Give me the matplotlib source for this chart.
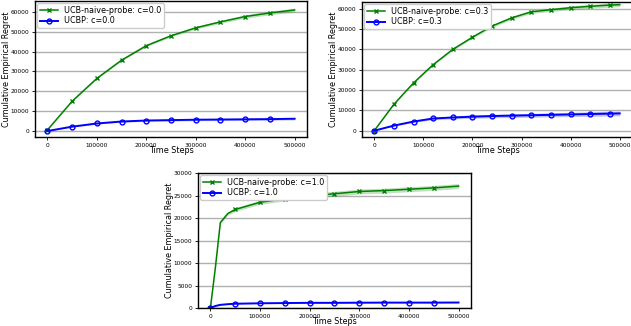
import matplotlib.pyplot as plt
import numpy as np

# c = 0.0
steps_a = [0, 50000, 100000, 150000, 200000, 250000, 300000, 350000, 400000, 450000, 500000]
naive_a = [500, 15000, 26500, 35700, 43000, 48000, 52000, 55000, 57700, 59500, 61000]
naive_a_sd = [0, 150, 250, 350, 450, 550, 650, 750, 850, 950, 1000]
ucbp_a = [0, 2200, 3800, 4800, 5300, 5500, 5700, 5800, 5900, 6000, 6200]
ucbp_a_sd = [0, 150, 250, 350, 400, 450, 500, 500, 550, 550, 600]

# c = 0.3
steps_b = [0, 40000, 80000, 120000, 160000, 200000, 240000, 280000, 320000,
           360000, 400000, 440000, 480000, 500000]
naive_b = [0, 13000, 23500, 32500, 40000, 46000, 51500, 55500, 58500,
           59500, 60500, 61200, 61800, 62000]
naive_b_sd = [0, 150, 250, 350, 450, 550, 650, 750, 800, 850, 900, 950, 1000, 1000]
ucbp_b = [0, 2500, 4500, 6000, 6500, 6900, 7200, 7400, 7600, 7800, 8000, 8200, 8400, 8500]
ucbp_b_sd = [0, 200, 400, 600, 700, 800, 850, 900, 950, 1000, 1050, 1100, 1150, 1150]

# c = 1.0
steps_c = [0, 10000, 20000, 35000, 50000, 100000, 150000, 200000, 250000,
           300000, 350000, 400000, 450000, 500000]
naive_c = [0, 9000, 19000, 21000, 21900, 23500, 24300, 24900, 25400,
           25900, 26100, 26400, 26700, 27100]
naive_c_sd = [0, 200, 300, 350, 400, 450, 500, 550, 550, 550, 550, 550, 550, 550]
ucbp_c = [0, 450, 700, 850, 950, 1050, 1100, 1150, 1150, 1180, 1200, 1200, 1200, 1220]
ucbp_c_sd = [0, 20, 30, 40, 50, 60, 60, 60, 60, 60, 60, 60, 60, 60]

panels = [
    (steps_a, naive_a, naive_a_sd, ucbp_a, ucbp_a_sd, '0.0', list(range(10)),
     [0.0555, 0.5798, 0.431, 0.417], (-3000, 65500), np.arange(0, 60001, 10000)),
    (steps_b, naive_b, naive_b_sd, ucbp_b, ucbp_b_sd, '0.3', list(range(13)),
     [0.5737, 0.5798, 0.4279, 0.414], (-3100, 63300), np.arange(0, 60001, 10000)),
    (steps_c, naive_c, naive_c_sd, ucbp_c, ucbp_c_sd, '1.0', [0] + list(range(4, 13)),
     [0.3138, 0.0552, 0.4326, 0.414], (0, 30000), np.arange(0, 30001, 5000)),
]

fig = plt.figure(figsize=(6.31, 3.26), dpi=100)

for steps, naive, naive_sd, ucbp, ucbp_sd, c, marks, rect, ylim, yticks in panels:
    ax = fig.add_axes(rect)
    x = np.array(steps)
    g = np.array(naive)
    gs = np.array(naive_sd)
    b = np.array(ucbp)
    bs = np.array(ucbp_sd)

    # полосы разброса и средние кривые
    ax.fill_between(x, g - gs, g + gs, color='green', alpha=0.25, lw=0)
    ax.fill_between(x, b - bs, b + bs, color='blue', alpha=0.25, lw=0)
    ax.plot(x, g, color='green', lw=1.1, marker='x', ms=3.5, mew=1,
            markevery=marks, label=f'UCB-naive-probe: c={c}')
    ax.plot(x, b, color='blue', lw=1.4, marker='o', ms=3.5, mew=1, mfc='none',
            markevery=marks, label=f'UCBP: c={c}')

    ax.set_xlim(-25000, 525000)
    ax.set_ylim(*ylim)
    ax.set_yticks(yticks)
    ax.set_xticks(np.arange(0, 500001, 100000))
    ax.yaxis.grid(True, color='#b0b0b0', lw=1)
    ax.set_axisbelow(True)
    ax.tick_params(labelsize=4.2, length=2.5, width=0.6, pad=1.5)
    for s in ax.spines.values():
        s.set_linewidth(1.0)
    ax.set_xlabel('Time Steps', fontsize=5.8, labelpad=-1)
    ax.set_ylabel('Cumulative Empirical Regret', fontsize=5.8, labelpad=0)
    ax.legend(loc='upper left', fontsize=5.8, handlelength=2.2,
              borderpad=0.3, labelspacing=0.2, borderaxespad=0.3, framealpha=1)

fig.savefig('out.png', dpi=100)
